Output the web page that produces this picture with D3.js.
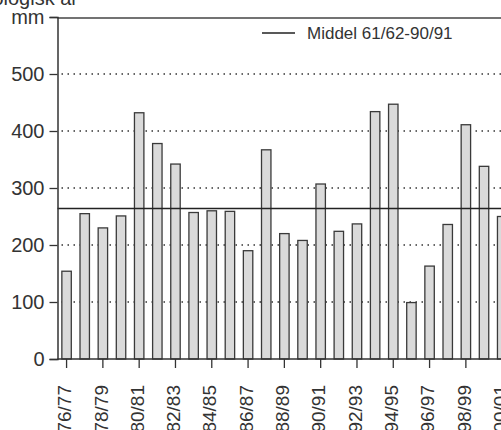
<!DOCTYPE html>
<html><head><meta charset="utf-8">
<script src="https://cdn.jsdelivr.net/npm/d3@7"></script>
<style>body{margin:0;background:#fff}svg{display:block}text{font-family:"Liberation Sans",Arial,sans-serif;fill:#333}</style>
</head><body>
<script>
const categories = ["76/77","77/78","78/79","79/80","80/81","81/82","82/83","83/84","84/85","85/86","86/87","87/88","88/89","89/90","90/91","91/92","92/93","93/94","94/95","95/96","96/97","97/98","98/99","99/00","00/01"];
const values = [154,255,230,251,432,378,342,257,260,259,190,367,220,208,307,224,237,434,447,99,163,236,411,338,250];
const meanValue = 264;
const yTicks = [0,100,200,300,400,500,600];
const yTickLabels = ["0","100","200","300","400","500","mm"];
const gridValues = [100,200,300,400,500];
const labelledCats = categories.filter((d,i)=>i%2===0);
const legendLabel = "Middel 61/62-90/91";
const titleText = "Hydrologisk år";

const W=501,H=430;
const svg=d3.select("body").append("svg").attr("width",W).attr("height",H);
const x0=57.5, step=18.15;
const x=d3.scaleBand().domain(categories).range([x0, x0+categories.length*step]).paddingInner(0.48).paddingOuter(0.24);
const y=d3.scaleLinear().domain([0,600]).range([359,17]);

svg.append("text").attr("x",78).attr("y",5).attr("text-anchor","end").attr("font-size",20).text(titleText);

// gridlines
svg.append("g").selectAll("line").data(gridValues).join("line")
  .attr("x1",x0+4).attr("x2",W).attr("y1",d=>y(d)).attr("y2",d=>y(d))
  .attr("stroke","#333").attr("stroke-width",1.6).attr("stroke-dasharray","1.5 4.5");

// bars
svg.append("g").selectAll("rect").data(values).join("rect")
  .attr("x",(d,i)=>x(categories[i])).attr("width",x.bandwidth())
  .attr("y",d=>y(d)).attr("height",d=>y(0)-y(d))
  .attr("fill","#dadada").attr("stroke","#3a3a3a").attr("stroke-width",1.3);

// mean line
svg.append("line").attr("x1",x0).attr("x2",W).attr("y1",y(meanValue)).attr("y2",y(meanValue))
  .attr("stroke","#222").attr("stroke-width",1.6);

// top frame
svg.append("line").attr("x1",x0).attr("x2",W).attr("y1",y(600)+1).attr("y2",y(600)+1).attr("stroke","#444").attr("stroke-width",1.3);

// y axis
const ya=svg.append("g").attr("transform",`translate(${x0},0)`)
  .call(d3.axisLeft(y).tickValues(yTicks).tickFormat((d,i)=>yTickLabels[i]).tickSize(8).tickPadding(5));
ya.select(".domain").attr("stroke","#333").attr("stroke-width",1.5);
ya.selectAll(".tick line").attr("stroke","#333").attr("stroke-width",1.3);
ya.selectAll(".tick text").attr("font-size",20).attr("fill","#333").attr("font-family","Liberation Sans, Arial, sans-serif");

// x axis
const xa=svg.append("g").attr("transform",`translate(0,${y(0)})`)
  .call(d3.axisBottom(x).tickValues(labelledCats).tickSize(9).tickSizeOuter(0));
xa.select(".domain").attr("stroke","#333").attr("stroke-width",1.5);
xa.select(".domain").attr("d",`M${x0},0H${W}`);
xa.selectAll(".tick line").attr("stroke","#333").attr("stroke-width",1.3);
xa.selectAll(".tick text").attr("font-size",19).attr("fill","#333").attr("font-family","Liberation Sans, Arial, sans-serif")
  .attr("transform","rotate(-90)").attr("text-anchor","end").attr("x",-26).attr("y",-2).attr("dy","0.35em");

// legend
svg.append("line").attr("x1",262).attr("x2",295).attr("y1",33).attr("y2",33).attr("stroke","#222").attr("stroke-width",1.5);
svg.append("text").attr("x",307).attr("y",39).attr("font-size",17).text(legendLabel);
</script>
</body></html>
